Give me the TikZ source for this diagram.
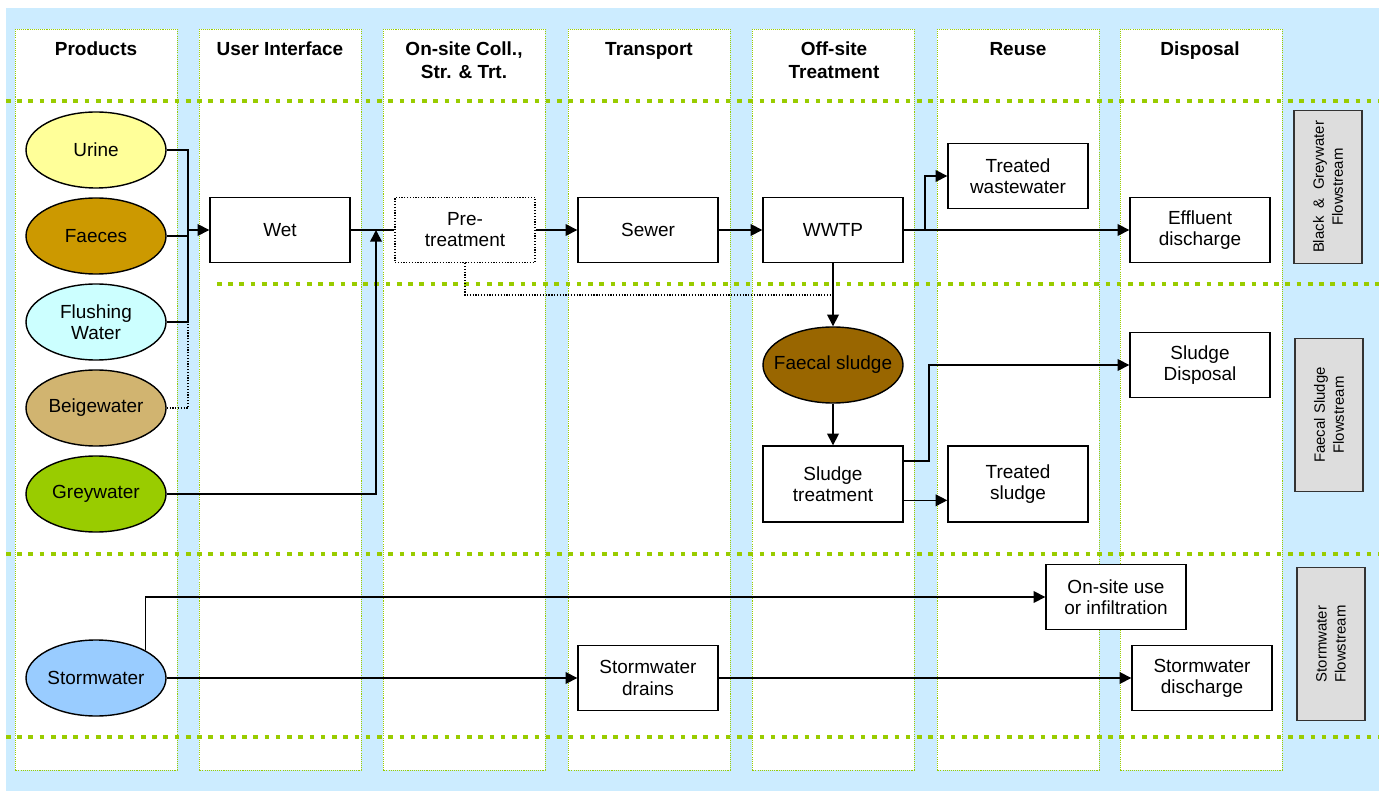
\documentclass[tikz,border=0pt]{standalone}
\usepackage{fontspec}
\setmainfont{Liberation Sans}
\usetikzlibrary{shapes.geometric,arrows.meta}
\definecolor{lane}{RGB}{204,236,255}
\definecolor{band}{RGB}{153,204,0}
\definecolor{urine}{RGB}{255,255,153}
\definecolor{faeces}{RGB}{204,153,0}
\definecolor{flush}{RGB}{204,255,255}
\definecolor{beige}{RGB}{209,180,112}
\definecolor{greyw}{RGB}{153,204,0}
\definecolor{storm}{RGB}{153,204,255}
\definecolor{sludge}{RGB}{153,102,0}
\definecolor{tag}{RGB}{221,221,221}
\tikzset{every node/.style={font=\fontsize{10.8}{12}\selectfont, align=center},
  >={Triangle[length=6.6pt,width=6.6pt]},
  lanebox/.style={draw=band, fill=white, line width=0.5pt, dash pattern=on 0.6pt off 0.6pt},
  bandline/.style={draw=band, line width=2.6pt, dash pattern=on 2.6pt off 3.8pt},
  head/.style={font=\fontsize{10.8}{13}\selectfont\bfseries, text depth=0pt},
  product/.style={ellipse, draw, line width=0.8pt, minimum width=2.8cm, minimum height=1.52cm, inner xsep=-9pt, inner ysep=0pt},
  tech/.style={rectangle, draw, fill=white, line width=0.8pt, minimum width=2.8cm, minimum height=1.3cm, inner sep=0pt},
  tall/.style={minimum height=1.52cm},
  optbox/.style={dash pattern=on 0.7pt off 0.9pt},
  stream/.style={rectangle, draw=black!80, fill=tag, line width=0.8pt, minimum width=3.06cm, minimum height=1.36cm,
                 rotate=90, font=\fontsize{8.5}{10.8}\selectfont},
  flow/.style={line width=0.9pt},
  optflow/.style={line width=0.7pt, dash pattern=on 0.7pt off 0.9pt}}

\begin{document}
\begin{tikzpicture}[x=0.2mm,y=-0.2mm]
  \useasboundingbox (0,0) rectangle (1379,791);
  \fill[lane] (6,8) rectangle (1379,791);
  \foreach \x in {15,199,383,568,752,937,1120}
    \draw[lanebox] (\x,29) rectangle ++(162,741);
  \draw[bandline] (  6,101) -- (1379,101);
  \draw[bandline] (217,284) -- (1379,284);
  \draw[bandline] (  6,554) -- (1379,554);
  \draw[bandline] (  6,737) -- (1379,737);

  \node[head] (hprod)  at (  96,49) {Products};
  \node[head] (huser)  at ( 280,49) {User Interface};
  \node[head] (hcoll)  at ( 464,60) {On-site Coll.,\\Str. \& Trt.};
  \node[head] (htrans) at ( 649,49) {Transport};
  \node[head] (hoff)   at ( 834,60) {Off-site\\Treatment};
  \node[head] (hreuse) at (1018,49) {Reuse};
  \node[head] (hdisp)  at (1200,49) {Disposal};

  \node[product,fill=urine]  (urine)  at (96,150) {Urine};
  \node[product,fill=faeces] (faeces) at (96,236) {Faeces};
  \node[product,fill=flush]  (flush)  at (96,322) {Flushing\\Water};
  \node[product,fill=beige]  (beige)  at (96,408) {Beigewater};
  \node[product,fill=greyw]  (grey)   at (96,494) {Greywater};
  \node[product,fill=storm]  (storm)  at (96,678) {Stormwater};

  \node[tech]        (wet)     at ( 280,230) {Wet};
  \node[tech,optbox] (pre)     at ( 465,230) {Pre-\\treatment};
  \node[tech]        (sewer)   at ( 648,230) {Sewer};
  \node[tech]        (wwtp)    at ( 833,230) {WWTP};
  \node[tech]        (twater)  at (1018,176) {Treated\\wastewater};
  \node[tech]        (efflu)   at (1200,230) {Effluent\\discharge};
  \node[product,fill=sludge] (fsludge) at (833,365) {Faecal sludge};
  \node[tech,tall]   (streat)  at ( 833,484) {Sludge\\treatment};
  \node[tech,tall]   (tsludge) at (1018,484) {Treated\\sludge};
  \node[tech]        (sdisp)   at (1200,365) {Sludge\\Disposal};
  \node[tech]        (onsite)  at (1116,597) {On-site use\\or infiltration};
  \node[tech]        (drains)  at ( 648,678) {Stormwater\\drains};
  \node[tech]        (sdis)    at (1202,678) {Stormwater\\discharge};

  \node[stream] (sbg) at (1328,187) {Black\ \ \&\ \ Greywater\\Flowstream};
  \node[stream] (sfs) at (1329,415) {Faecal Sludge\\Flowstream};
  \node[stream] (ssw) at (1331,644) {Stormwater\\Flowstream};

  \coordinate (bus)    at (188,230);
  \coordinate (gin)    at (376,230);
  \coordinate (wsplit) at (925,230);
  \coordinate (pjoin)  at (833,295);

  \draw[flow] (urine.east) -| (bus);
  \draw[flow] (faeces.east) -- (faeces.east -| bus);
  \draw[flow] (flush.east) -| (bus);
  \draw[optflow] (beige.east) -| (flush.east -| bus);
  \draw[flow,->] (bus) -- (wet);
  \draw[flow] (wet) -- (pre);
  \draw[flow,->] (grey.east) -| (gin);
  \draw[flow,->] (pre) -- (sewer);
  \draw[flow,->] (sewer) -- (wwtp);
  \draw[flow,->] (wwtp) -- (efflu);
  \draw[flow,->] (wsplit) |- (twater);
  \draw[flow,->] (wwtp) -- (fsludge);
  \draw[optflow] (pre.south) |- (pjoin);
  \draw[flow,->] (fsludge) -- (streat);
  \draw[flow,->] (streat.18) -- ++(25,0) |- (sdisp);
  \draw[flow,->] (streat.-13) -- (streat.-13 -| tsludge.west);
  \draw[flow,->] (storm) -- (drains);
  \draw[flow,->] (drains) -- (sdis);
  \draw[flow,->] (storm.29) |- (onsite);
\end{tikzpicture}
\end{document}
